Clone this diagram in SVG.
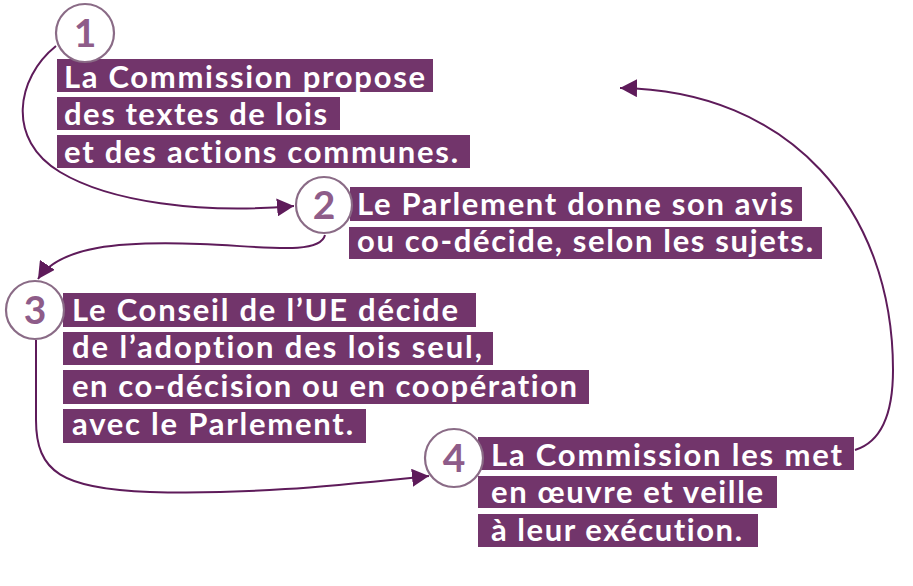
<svg xmlns="http://www.w3.org/2000/svg" width="913" height="586" viewBox="0 0 913 586">
<defs>
<style>
.box{fill:#72356b}
.t{font-family:Lato,"Open Sans","Liberation Sans",sans-serif;font-size:31px;font-weight:700;fill:#ffffff;font-variant-ligatures:none}
.circ{fill:#ffffff;stroke:#8a6b86;stroke-width:2.2}
.num{font-family:Lato,"Open Sans","Liberation Sans",sans-serif;font-size:39px;font-weight:700;fill:#8e5c89;text-anchor:middle}
.conn{fill:none;stroke:#5e1b5a;stroke-width:2}
</style>
<marker id="arr" markerUnits="userSpaceOnUse" markerWidth="18" markerHeight="18" refX="17" refY="9" orient="auto">
<path d="M0,0 L17,9 L0,18 Z" fill="#5e1b5a"/>
</marker>
</defs>
<rect width="913" height="586" fill="#ffffff"/>
<g id="connectors">
<path class="conn" marker-end="url(#arr)" d="M56,46 C16,78 6,140 60,172 C110,202 200,214 294,206"/>
<path class="conn" marker-end="url(#arr)" d="M325,235 C320,256 260,246 200,244 C120,241 60,246 38,279"/>
<path class="conn" marker-end="url(#arr)" d="M36,340 L36,420 C36,472 62,489 150,492 C250,495 340,485 429,476"/>
<path class="conn" marker-end="url(#arr)" d="M855,450 C881,442 893,415 893,370 C893,210 790,90 620,88"/>
</g>
<g id="node1">
<rect class="box" x="57" y="59" width="376" height="33"/>
<rect class="box" x="57" y="97" width="283" height="33"/>
<rect class="box" x="57" y="135" width="413" height="33"/>
<text class="t" x="64" y="88" textLength="361" lengthAdjust="spacing">La Commission propose</text>
<text class="t" x="64" y="125" textLength="263" lengthAdjust="spacing">des textes de lois</text>
<text class="t" x="64" y="163" textLength="394" lengthAdjust="spacing">et des actions communes.</text>
<circle class="circ" cx="85" cy="33" r="29"/>
<text class="num" x="85" y="47">1</text>
</g>
<g id="node2">
<rect class="box" x="350" y="187" width="452" height="34"/>
<rect class="box" x="349" y="227" width="473" height="32"/>
<text class="t" x="357" y="215" textLength="436" lengthAdjust="spacing">Le Parlement donne son avis</text>
<text class="t" x="357" y="252" textLength="456" lengthAdjust="spacing">ou co-décide, selon les sujets.</text>
<circle class="circ" cx="324" cy="205" r="28"/>
<text class="num" x="324" y="219">2</text>
</g>
<g id="node3">
<rect class="box" x="63" y="293" width="413" height="34"/>
<rect class="box" x="63" y="332" width="430" height="33"/>
<rect class="box" x="63" y="370" width="526" height="34"/>
<rect class="box" x="63" y="409" width="303" height="34"/>
<text class="t" x="72" y="321" textLength="386" lengthAdjust="spacing">Le Conseil de l’UE décide</text>
<text class="t" x="72" y="358" textLength="410" lengthAdjust="spacing">de l’adoption des lois seul,</text>
<text class="t" x="72" y="397" textLength="505" lengthAdjust="spacing">en co-décision ou en coopération</text>
<text class="t" x="72" y="435" textLength="281" lengthAdjust="spacing">avec le Parlement.</text>
<circle class="circ" cx="35" cy="310" r="29"/>
<text class="num" x="35" y="324">3</text>
</g>
<g id="node4">
<rect class="box" x="478" y="437" width="376" height="33"/>
<rect class="box" x="478" y="476" width="299" height="32"/>
<rect class="box" x="478" y="514" width="280" height="33"/>
<text class="t" x="491" y="466" textLength="351" lengthAdjust="spacing">La Commission les met</text>
<text class="t" x="491" y="503" textLength="272" lengthAdjust="spacing">en œuvre et veille</text>
<text class="t" x="491" y="541" textLength="251" lengthAdjust="spacing">à leur exécution.</text>
<circle class="circ" cx="454" cy="458" r="29"/>
<text class="num" x="454" y="472">4</text>
</g>
</svg>
